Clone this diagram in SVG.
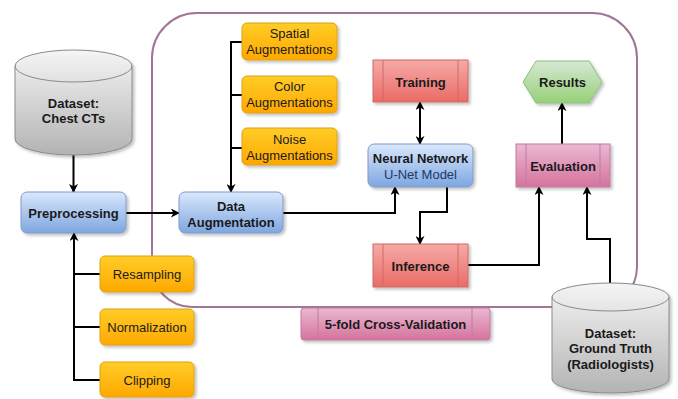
<svg xmlns="http://www.w3.org/2000/svg" width="678" height="399" viewBox="0 0 678 399">
<defs>
<linearGradient id="gOrange" x1="0" y1="0" x2="0" y2="1"><stop offset="0" stop-color="#ffcd28"/><stop offset="1" stop-color="#ffa800"/></linearGradient>
<linearGradient id="gBlue" x1="0" y1="0" x2="0" y2="1"><stop offset="0" stop-color="#dae8fc"/><stop offset="1" stop-color="#7ea6e0"/></linearGradient>
<linearGradient id="gRed" x1="0" y1="0" x2="0" y2="1"><stop offset="0" stop-color="#f6aaa6"/><stop offset="1" stop-color="#ea6b66"/></linearGradient>
<linearGradient id="gPink" x1="0" y1="0" x2="0" y2="1"><stop offset="0" stop-color="#eab8d2"/><stop offset="1" stop-color="#d5739d"/></linearGradient>
<linearGradient id="gGreen" x1="0" y1="0" x2="0" y2="1"><stop offset="0" stop-color="#d5e8d4"/><stop offset="1" stop-color="#97d077"/></linearGradient>
<linearGradient id="gGray" x1="0" y1="0" x2="0" y2="1"><stop offset="0" stop-color="#f5f5f5"/><stop offset="1" stop-color="#b3b3b3"/></linearGradient>
<filter id="sh" x="-10%" y="-10%" width="130%" height="140%"><feDropShadow dx="2" dy="2" stdDeviation="1.5" flood-color="#000" flood-opacity="0.25"/></filter>
<marker id="ah" viewBox="0 0 10 10" refX="9" refY="5" markerWidth="9" markerHeight="9" markerUnits="userSpaceOnUse" orient="auto-start-reverse"><path d="M0,0 L10,5 L0,10 L3,5 Z" fill="#000"/></marker>
</defs>
<style>
text{font-family:"Liberation Sans",Arial,sans-serif;font-size:13px;text-anchor:middle;fill:#1a1a1a}
.b{font-weight:bold}
.or{fill:url(#gOrange);stroke:#e0a010;stroke-width:1;filter:url(#sh)}
.bl{fill:url(#gBlue);stroke:#7e9cc8;stroke-width:1;filter:url(#sh)}
.rd{fill:url(#gRed);stroke:#d06a66;stroke-width:1;filter:url(#sh)}
.pk{fill:url(#gPink);stroke:#c07aa0;stroke-width:1;filter:url(#sh)}
.gr{fill:url(#gGreen);stroke:#8cc07a;stroke-width:1;filter:url(#sh)}
.cy{fill:url(#gGray);stroke:#8a8a8a;stroke-width:1;filter:url(#sh)}
.in{fill:none;stroke-width:1}
.c{fill:none;stroke:#000;stroke-width:2}
</style>
<path id="cv-frame" d="M197 13 H592 A45 45 0 0 1 637 58 V267 A40 40 0 0 1 597 307 H192 A40 40 0 0 1 152 267 V58 A45 45 0 0 1 197 13 Z" fill="none" stroke="#a07596" stroke-width="2"/>
<g id="connectors">
<path class="c" d="M73.5 155 V192" marker-end="url(#ah)"/>
<path class="c" d="M126 213 H179" marker-end="url(#ah)"/>
<path class="c" d="M242 42 H231 V192" marker-end="url(#ah)"/>
<path class="c" d="M242 95 H231"/>
<path class="c" d="M242 148 H231"/>
<path class="c" d="M100 380 H74 V233" marker-end="url(#ah)"/>
<path class="c" d="M100 274 H74"/>
<path class="c" d="M100 327 H74"/>
<path class="c" d="M283 213 H395 V187" marker-end="url(#ah)"/>
<path class="c" d="M447 187 V212 H420 V244" marker-end="url(#ah)"/>
<path class="c" d="M420 102 V144" marker-start="url(#ah)" marker-end="url(#ah)"/>
<path class="c" d="M468 265 H539 V187" marker-end="url(#ah)"/>
<path class="c" d="M610 283 V239 H587 V187" marker-end="url(#ah)"/>
<path class="c" d="M562 144 V103" marker-end="url(#ah)"/>
</g>
<g id="dataset-ct">
<path class="cy" d="M15 66 A58.5 16 0 0 1 132 66 V139 A58.5 16 0 0 1 15 139 Z"/>
<path class="in" stroke="#8a8a8a" d="M15 66 A58.5 16 0 0 0 132 66"/>
<text class="b" x="73.5" y="107.5">Dataset:</text>
<text class="b" x="73.5" y="122.5">Chest CTs</text>
</g>
<g id="preprocessing">
<rect class="bl" x="21" y="192" width="105" height="41" rx="6"/>
<text class="b" x="73.5" y="217.5">Preprocessing</text>
</g>
<g id="data-augmentation">
<rect class="bl" x="179" y="192" width="104" height="41" rx="6"/>
<text class="b" x="231" y="210.5">Data</text>
<text class="b" x="231" y="226.5">Augmentation</text>
</g>
<g id="spatial">
<rect class="or" x="242" y="23" width="95" height="37" rx="5"/>
<text x="289.5" y="38">Spatial</text>
<text x="289.5" y="54">Augmentations</text>
</g>
<g id="color">
<rect class="or" x="242" y="76" width="95" height="37" rx="5"/>
<text x="289.5" y="91">Color</text>
<text x="289.5" y="107">Augmentations</text>
</g>
<g id="noise">
<rect class="or" x="242" y="128" width="95" height="37" rx="5"/>
<text x="289.5" y="143.5">Noise</text>
<text x="289.5" y="159.5">Augmentations</text>
</g>
<g id="resampling">
<rect class="or" x="100" y="256" width="94" height="36" rx="5"/>
<text x="147" y="278.5">Resampling</text>
</g>
<g id="normalization">
<rect class="or" x="100" y="309" width="94" height="36" rx="5"/>
<text x="147" y="331.5">Normalization</text>
</g>
<g id="clipping">
<rect class="or" x="100" y="362" width="94" height="35" rx="5"/>
<text x="147" y="384.5">Clipping</text>
</g>
<g id="training">
<rect class="rd" x="373" y="60" width="95" height="42"/>
<path class="in" stroke="#d06a66" d="M383 60 V102 M458 60 V102"/>
<text class="b" x="420.5" y="86.5">Training</text>
</g>
<g id="neural-network">
<rect class="bl" x="368" y="144" width="105" height="43" rx="6"/>
<text class="b" x="420.5" y="162.5">Neural Network</text>
<text x="420.5" y="178.5" style="fill:#203a66">U-Net Model</text>
</g>
<g id="inference">
<rect class="rd" x="373" y="244" width="95" height="43"/>
<path class="in" stroke="#d06a66" d="M383 244 V287 M458 244 V287"/>
<text class="b" x="420.5" y="270.5">Inference</text>
</g>
<g id="results">
<path class="gr" d="M523 82 L536 61 H589 L602 82 L589 103 H536 Z"/>
<text class="b" x="562.5" y="86.5">Results</text>
</g>
<g id="evaluation">
<rect class="pk" x="516" y="144" width="94" height="43"/>
<path class="in" stroke="#c07aa0" d="M526 144 V187 M600 144 V187"/>
<text class="b" x="563" y="170.5">Evaluation</text>
</g>
<g id="cross-validation">
<rect class="pk" x="301" y="308" width="189" height="32" rx="3"/>
<path class="in" stroke="#c07aa0" d="M318 308 V340 M472 308 V340"/>
<text class="b" x="395.5" y="328.5">5-fold Cross-Validation</text>
</g>
<g id="dataset-gt">
<path class="cy" d="M552 297 A58.5 14 0 0 1 669 297 V379 A58.5 14 0 0 1 552 379 Z"/>
<path class="in" stroke="#8a8a8a" d="M552 297 A58.5 14 0 0 0 669 297"/>
<text class="b" x="610.5" y="337.5">Dataset:</text>
<text class="b" x="610.5" y="352.5">Ground Truth</text>
<text class="b" x="610.5" y="368.5">(Radiologists)</text>
</g>
</svg>
